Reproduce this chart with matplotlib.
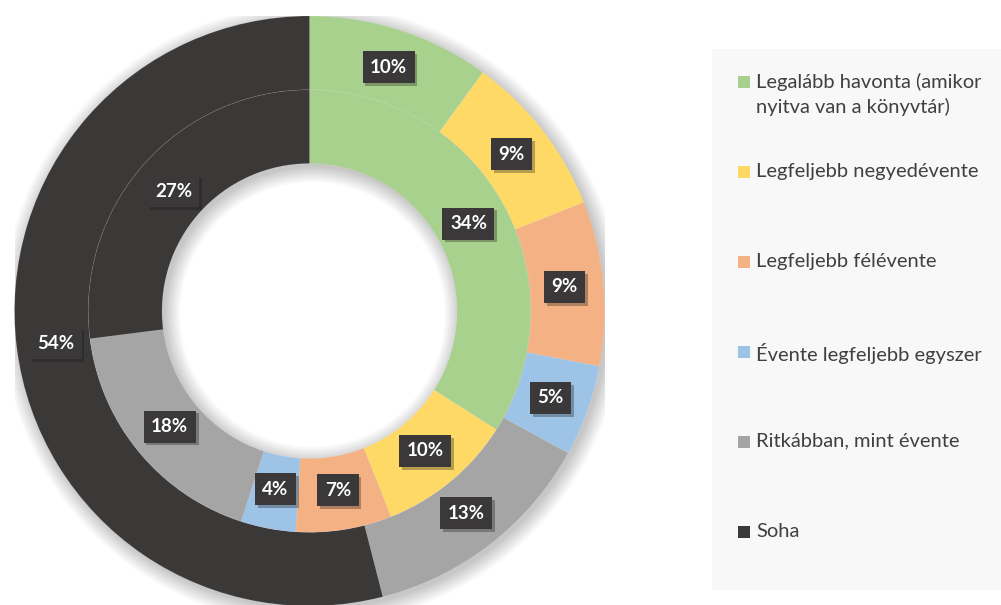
import matplotlib.pyplot as plt
import numpy as np
from matplotlib.patches import Rectangle, Wedge
import matplotlib.patheffects as pe

# data
categories = ['Legalább havonta (amikor\nnyitva van a könyvtár)', 'Legfeljebb negyedévente',
              'Legfeljebb félévente', 'Évente legfeljebb egyszer',
              'Ritkábban, mint évente', 'Soha']
outer_values = [10, 9, 9, 5, 13, 54]
inner_values = [34, 10, 7, 4, 18, 27]
colors = ['#A9D18E', '#FFD966', '#F4B183', '#9DC3E6', '#A5A5A5', '#3B3838']

W, H = 1001, 605
fig = plt.figure(figsize=(W / 100, H / 100), dpi=100)
fig.patch.set_facecolor('white')

# chart area, center ~ (309.5, 311) px, radius ~295 px
R_px = 295
cx, cy = 309.5, 311
ax = fig.add_axes([(cx - R_px) / W, (H - cy - R_px) / H, 2 * R_px / W, 2 * R_px / H])
ax.set_xlim(-1, 1)
ax.set_ylim(-1, 1)
ax.set_aspect('equal')
ax.axis('off')

# soft shadow behind the rings
for k in range(14):
    s = 0.004 * k
    ax.add_patch(Wedge((0.01, -0.012), 1 + s, 0, 360, width=0.5 + 2 * s,
                       facecolor='black', edgecolor='none', alpha=0.014, zorder=0))

wedge_kw = dict(edgecolor=(1, 1, 1, 0.12), linewidth=0.5)
ax.pie(outer_values, radius=1.0, colors=colors, startangle=90, counterclock=False,
       wedgeprops=dict(width=0.25, **wedge_kw))
ax.pie(inner_values, radius=0.75, colors=colors, startangle=90, counterclock=False,
       wedgeprops=dict(width=0.25, **wedge_kw))
ax.set_xlim(-1, 1)
ax.set_ylim(-1, 1)


def add_labels(values, r_mid):
    total = sum(values)
    start = 90.0
    for v in values:
        ang = np.deg2rad(start - 360 * v / total / 2)
        start -= 360 * v / total
        t = ax.text(r_mid * np.cos(ang), r_mid * np.sin(ang), f'{v}%',
                    ha='center', va='center', color='white', fontsize=13.5,
                    fontweight='bold', family=['Lato', 'DejaVu Sans'], zorder=5,
                    bbox=dict(boxstyle='square,pad=0.4', facecolor='#3A3838',
                              edgecolor='none'))
        t.get_bbox_patch().set_path_effects(
            [pe.SimplePatchShadow(offset=(2, -2), alpha=0.3), pe.Normal()])


add_labels(outer_values, 0.868)
add_labels(inner_values, 0.615)

# legend panel
fig.patches.append(Rectangle((712 / W, (H - 590) / H), (W - 712) / W, 541 / H,
                             transform=fig.transFigure, facecolor='#F8F8F8',
                             edgecolor='none', zorder=0))
for i, (lab, col) in enumerate(zip(categories, colors)):
    yc = 81.7 + 90 * i
    fig.patches.append(Rectangle((738 / W, (H - yc - 6) / H), 12 / W, 12 / H,
                                 transform=fig.transFigure, facecolor=col,
                                 edgecolor='none', zorder=2))
    fig.text(756 / W, (H - yc + 9) / H, lab, ha='left', va='top', fontsize=14.5,
             color='#404040', family=['Lato', 'DejaVu Sans'], linespacing=1.45)

fig.savefig('out.png', dpi=100)
